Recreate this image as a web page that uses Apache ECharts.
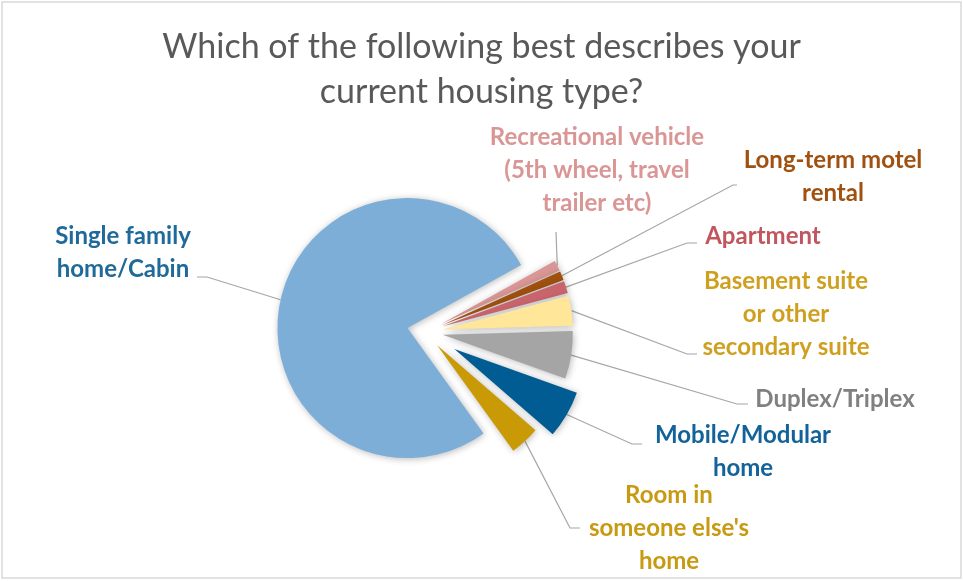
<!DOCTYPE html>
<html>
<head>
<meta charset="utf-8">
<script src="https://cdn.jsdelivr.net/npm/echarts@6/dist/echarts.min.js"></script>
<style>
    html, body { margin: 0; padding: 0; background: #fff; }
    #chart { width: 963px; height: 581px; }
</style>
</head>
<body>
<div id="chart"></div>
<script>
// Housing type shares (%), clockwise from the top-right
const categories = [
    'Recreational vehicle\n(5th wheel, travel\ntrailer etc)',
    'Long-term motel\nrental',
    'Apartment',
    'Basement suite\nor other\nsecondary suite',
    'Duplex/Triplex',
    'Mobile/Modular\nhome',
    'Room in\nsomeone else\'s\nhome',
    'Single family\nhome/Cabin'
];
const shares = [1.3, 1.1, 1.5, 3.7, 5.9, 5.9, 3.7, 76.9];

const sliceColors = ['#D99694', '#A0500F', '#C8646C', '#FFE699', '#A5A5A5', '#005C93', '#C99A06', '#7CAED8'];
const labelColors = ['#D99694', '#A0500F', '#C0575F', '#CFA020', '#808080', '#11639A', '#C89A12', '#1F6A9A'];
// how far each slice is pulled out of the pie (px)
const explode = [18, 18, 18, 18, 18, 34, 18, 18];

// label anchors and leader line bends (px)
const labelSpots = [
    { x: 597, y: 170, line: [[556, 232], [556, 232]] },
    { x: 833, y: 177, line: [[733, 185], [737, 185]] },
    { x: 763, y: 236, line: [[687, 243], [697, 243]] },
    { x: 786, y: 314, line: [[687, 354], [697, 354]] },
    { x: 835, y: 399, line: [[737, 404], [748, 404]] },
    { x: 743, y: 452, line: [[632, 444], [642, 444]] },
    { x: 669, y: 528, line: [[570, 528], [580, 528]] },
    { x: 123, y: 253, line: [[207, 277], [197, 277]] }
];

const pieCenter = [425, 332];
const pieRadius = 130;
const startAngle = 29;

function placeLabel(params) {
    const spot = labelSpots[params.dataIndex];
    if (!spot || !params.labelLinePoints) return {};
    return {
        x: spot.x,
        y: spot.y,
        align: 'center',
        verticalAlign: 'middle',
        labelLinePoints: [params.labelLinePoints[0]].concat(spot.line)
    };
}

const chart = echarts.init(document.getElementById('chart'));
const total = shares.reduce((a, b) => a + b, 0);

// one pie per slice so every slice can be pulled out on its own
let acc = 0;
const series = shares.map((v, i) => {
    const mid = (startAngle - (acc + v / 2) / total * 360) * Math.PI / 180;
    acc += v;
    return {
        type: 'pie',
        silent: true,
        startAngle: startAngle,
        clockwise: true,
        radius: pieRadius,
        center: [pieCenter[0] + Math.cos(mid) * explode[i], pieCenter[1] - Math.sin(mid) * explode[i]],
        avoidLabelOverlap: false,
        labelLayout: placeLabel,
        data: shares.map((s, j) => ({
            value: s,
            name: categories[j],
            itemStyle: j === i ? {
                color: sliceColors[j],
                shadowBlur: 7,
                shadowColor: 'rgba(0, 0, 0, 0.28)',
                shadowOffsetX: 1,
                shadowOffsetY: 1
            } : { color: 'rgba(0,0,0,0)' },
            label: {
                show: j === i,
                position: 'outside',
                formatter: '{b}',
                color: labelColors[j],
                fontFamily: 'Lato',
                fontWeight: 'bold',
                fontSize: 24,
                lineHeight: 33
            },
            labelLine: {
                show: j === i,
                lineStyle: { color: '#A6A6A6', width: 1.2 }
            }
        }))
    };
});

chart.setOption({
    animation: false,
    backgroundColor: '#fff',
    title: {
        text: 'Which of the following best describes your\ncurrent housing type?',
        left: 'center',
        top: 25,
        padding: 0,
        textStyle: {
            color: '#595959',
            fontFamily: 'Lato',
            fontWeight: 'normal',
            fontSize: 34,
            lineHeight: 45
        }
    },
    graphic: [{
        type: 'rect',
        shape: { x: 2, y: 2, width: 959, height: 576 },
        style: { fill: 'none', stroke: '#D9D9D9', lineWidth: 1.5 },
        silent: true
    }],
    series: series
});
</script>
</body>
</html>
